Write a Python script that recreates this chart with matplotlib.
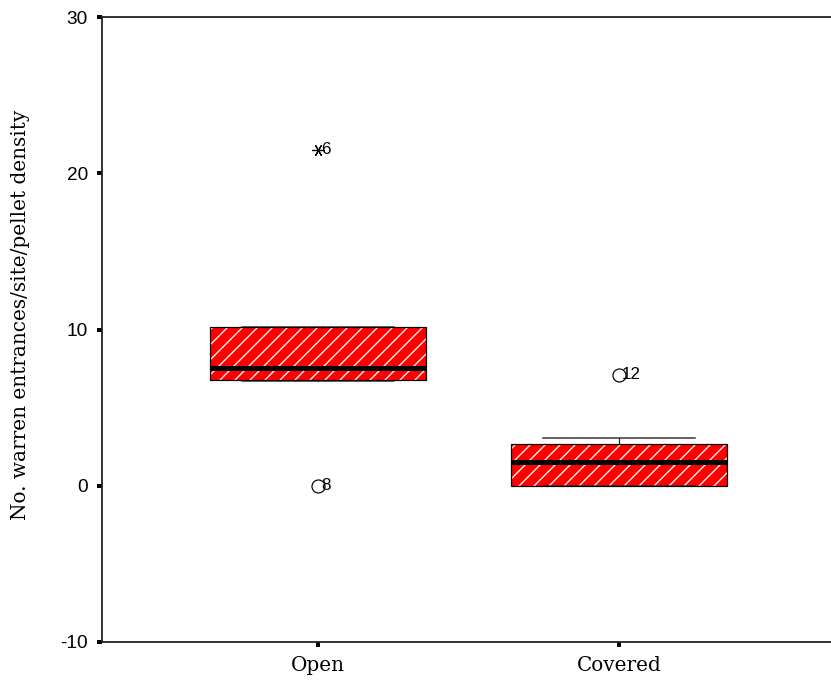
import matplotlib
matplotlib.use("Agg")
import matplotlib.pyplot as plt
from matplotlib.patches import PathPatch

# ---- data ----
categories = ["Open", "Covered"]
q1 = [6.8, 0.0]
medians = [7.55, 1.5]
q3 = [10.15, 2.65]
whisker_lo = [6.7, 0.0]
whisker_hi = [10.15, 3.05]
# outliers: group index, value, case label, kind
outlier_group = [0, 0, 1]
outlier_value = [21.5, 0.0, 7.1]
outlier_label = ["6", "8", "12"]
outlier_kind = ["extreme", "outlier", "outlier"]
yticks = [-10, 0, 10, 20, 30]
ylabel = "No. warren entrances/site/pellet density"

DPI = 90
W, H = 832, 684


def pt(px):
    return px * 72.0 / DPI


plt.rcParams["hatch.color"] = "white"
plt.rcParams["hatch.linewidth"] = pt(1.3)

fig = plt.figure(figsize=(W / DPI, H / DPI), dpi=DPI)
left_px, right_px, top_px, bot_px = 102, 900, 17, 642
ax = fig.add_axes([left_px / W, (H - bot_px) / H,
                   (right_px - left_px) / W, (bot_px - top_px) / H])

positions = [1, 2]
stats = []
for i, c in enumerate(categories):
    stats.append(dict(label=c, q1=q1[i], med=medians[i], q3=q3[i],
                      whislo=whisker_lo[i], whishi=whisker_hi[i], fliers=[]))

bp = ax.bxp(stats, positions=positions, widths=0.718, capwidths=0.505,
            patch_artist=True, showfliers=False,
            boxprops=dict(facecolor="#ff0000", edgecolor="white", linewidth=0, hatch="//"),
            medianprops=dict(color="black", linewidth=pt(5), solid_capstyle="butt"),
            whiskerprops=dict(color="#222222", linewidth=pt(1.2)),
            capprops=dict(color="#333333", linewidth=pt(1.5)))
for b in bp["boxes"]:
    ax.add_patch(PathPatch(b.get_path(), transform=b.get_transform(),
                           fill=False, edgecolor="black", linewidth=pt(1.2),
                           zorder=b.get_zorder() + 0.1))
for m in bp["medians"]:
    m.set_zorder(5)

for g, v, lab, kind in zip(outlier_group, outlier_value, outlier_label, outlier_kind):
    x = positions[g]
    if kind == "extreme":
        ax.plot([x], [v], marker=(6, 2, 90), markersize=pt(12), color="black",
                markeredgewidth=pt(1.2), linestyle="none", zorder=6)
    else:
        ax.plot([x], [v], marker="o", markersize=pt(13), markerfacecolor="white",
                markeredgecolor="black", markeredgewidth=pt(1.2), linestyle="none", zorder=6)
    ax.annotate(lab, (x, v), xytext=(pt(3), pt(0.5)), textcoords="offset points",
                ha="left", va="center", fontsize=pt(17), family="Liberation Sans",
                color="black", zorder=7)

ax.set_xlim(1 - 216 / 301, 1 + (right_px - 318) / 301)
ax.set_ylim(-10, 30)
ax.set_yticks(yticks)
ax.set_yticklabels([str(t) for t in yticks], family="Liberation Sans", fontsize=pt(19))
ax.set_xticks(positions)
ax.set_xticklabels(categories, family="DejaVu Serif", fontsize=pt(20))

ax.tick_params(axis="y", direction="out", length=pt(5), width=pt(4), pad=pt(9), color="black")
ax.tick_params(axis="x", direction="out", length=pt(5), width=pt(4), pad=pt(9), color="black")
for s in ["left", "bottom", "top", "right"]:
    ax.spines[s].set_linewidth(pt(1.8))
    ax.spines[s].set_color("#222222")

ax.set_ylabel(ylabel, family="DejaVu Serif", fontsize=pt(20))
ax.yaxis.set_label_coords((30 - left_px) / (right_px - left_px), (bot_px - 315) / (bot_px - top_px))

fig.savefig("out.png", dpi=DPI)
